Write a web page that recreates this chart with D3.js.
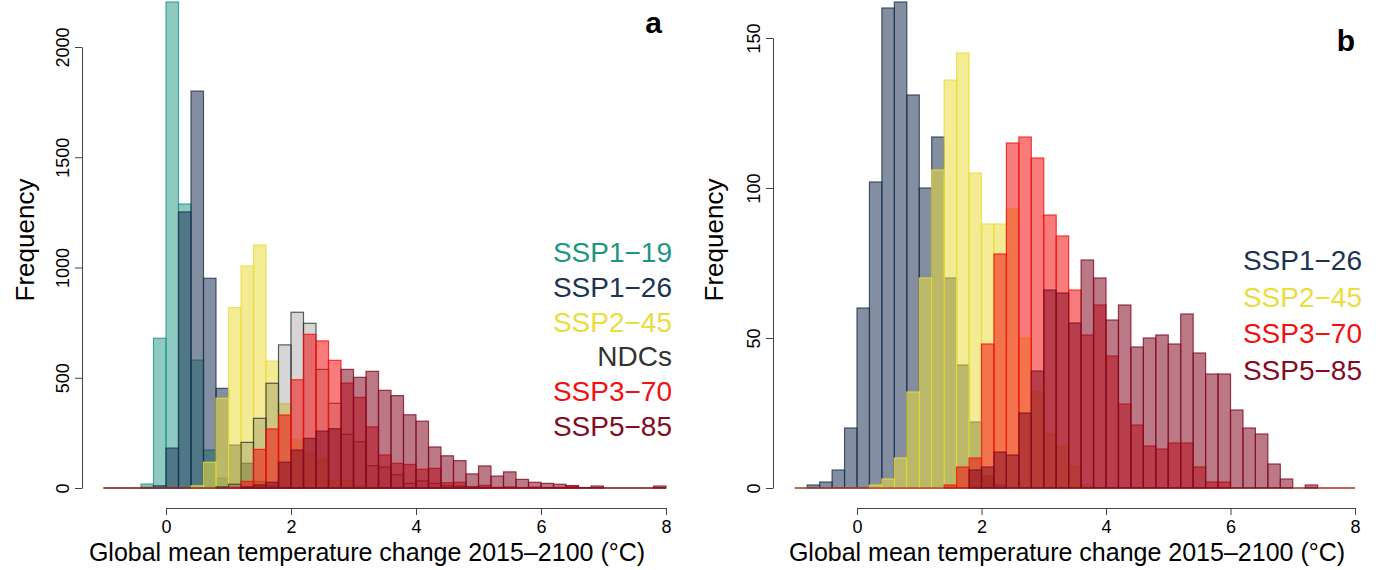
<!DOCTYPE html>
<html>
<head>
<meta charset="utf-8">
<script src="https://cdn.jsdelivr.net/npm/d3@7"></script>
<style>
  body { margin: 0; background: #fff; }
  svg text { font-family: "Liberation Sans", Arial, sans-serif; }
</style>
</head>
<body>
<div id="vis-container"></div>
<script>
// histogram bins: 0.2 wide, the first one starts at -1.0
var binStart = -1.0;
var binWidth = 0.2;

// panel a counts, one entry per bin
var ssp119A = [0,0,0,18,679,2204,1288,580,172,44,8];
var ssp126A = [0,0,0,3,10,181,1252,1800,951,452,195,112,30,10,3];
var ssp245A = [0,0,0,0,0,0,0,10,117,407,818,1007,1102,576,382,218,157,127,36,36,10,3];
var ndcsA   = [0,0,0,0,0,0,0,0,0,5,17,207,316,475,649,797,747,538,384,243,210,101,95,60,21,32,21,10,8,5,3];
var ssp370A = [0,0,0,0,0,0,0,0,0,0,3,30,175,268,331,491,697,667,579,476,411,277,150,112,107,85,89,24,26,5,12,3,5,2,4,2,3,8];
var ssp585A = [0,0,0,0,0,0,0,0,0,0,0,5,14,26,117,172,225,258,269,538,502,529,443,419,332,303,186,146,124,64,100,54,73,39,26,21,17,11,2,9,0,0,0,0,9];

// panel b counts
var ssp126B = [0,1,2,6,20,60,102,160,162,131,100,117,70,41,22,4,1];
var ssp245B = [0,0,0,0,0,0,1,3,10,32,70,106,136,145,105,88,88,93,50,32,18,14,7,1];
var ssp370B = [0,0,0,0,0,0,0,0,0,0,0,0,1,7,10,48,78,115,117,110,91,84,66,51,61,44,28,21,14,13,15,15,7,2,2];
var ssp585B = [0,0,0,0,0,0,0,0,0,0,0,0,0,0,6,7,12,11,25,39,66,65,55,76,70,56,61,47,50,51,48,58,45,38,38,26,20,18,8,3,0,1];

var namesA = ["SSP1\u221219", "SSP1\u221226", "SSP2\u221245", "NDCs", "SSP3\u221270", "SSP5\u221285"];
var namesB = ["SSP1\u221226", "SSP2\u221245", "SSP3\u221270", "SSP5\u221285"];
var xTicks = [0, 2, 4, 6, 8];
var yTicksA = [0, 500, 1000, 1500, 2000];
var yTicksB = [0, 50, 100, 150];

var colour = {
	"SSP1\u221219": "#1e9583",
	"SSP1\u221226": "#1d3354",
	"SSP2\u221245": "#eadd3d",
	"NDCs": "#333333",
	"SSP3\u221270": "#f21111",
	"SSP5\u221285": "#840b22"
};
var fillAlpha = { "NDCs": 0.2, "SSP1\u221219": 0.5 };

var svg = d3.select("#vis-container")
	.append("svg")
	.attr("width", 1381)
	.attr("height", 570);

function drawPanel(p) {
	var x = d3.scaleLinear().domain([0, 8]).range(p.xRange);
	var y = d3.scaleLinear().domain(p.yDomain).range([488, p.yTop]);
	var g = svg.append("g");

	p.series.forEach(function (counts, s) {
		var c = colour[p.names[s]];
		var a = fillAlpha[p.names[s]] || 0.55;
		var bins = counts.map(function (v, i) {
			return { x0: binStart + i * binWidth, x1: binStart + (i + 1) * binWidth, n: v };
		}).filter(function (b) { return b.n > 0; });

		// zero-height bars show as a line along the whole break range
		g.append("line")
			.attr("x1", x(-1)).attr("x2", x(8))
			.attr("y1", y(0)).attr("y2", y(0))
			.attr("stroke", c).attr("stroke-opacity", 0.6).attr("stroke-width", 1.2);

		g.selectAll(null).data(bins).enter().append("rect")
			.attr("x", function (b) { return x(b.x0); })
			.attr("width", function (b) { return x(b.x1) - x(b.x0); })
			.attr("y", function (b) { return y(b.n); })
			.attr("height", function (b) { return y(0) - y(b.n); })
			.attr("fill", d3.color(c).copy({ opacity: a }))
			.attr("stroke", c)
			.attr("stroke-opacity", 0.8)
			.attr("stroke-width", 1.2);
	});

	// axes, R style: detached and only between the outer ticks
	var xAxis = g.append("g")
		.attr("transform", "translate(0,508)")
		.call(d3.axisBottom(x).tickValues(xTicks).tickSize(7).tickSizeOuter(0).tickPadding(5));
	xAxis.selectAll("text").attr("font-size", 18).attr("fill", "#000");
	xAxis.selectAll("line, path").attr("stroke", "#444");

	var yAxis = g.append("g")
		.attr("transform", "translate(" + p.yAxisX + ",0)")
		.call(d3.axisLeft(y).tickValues(p.yTicks).tickFormat(d3.format("d")).tickSize(7).tickSizeOuter(0));
	yAxis.selectAll("text")
		.attr("x", 0).attr("y", -13).attr("dy", 0)
		.attr("text-anchor", "middle")
		.attr("transform", "rotate(-90)")
		.attr("font-size", 18).attr("fill", "#000");
	yAxis.selectAll("line, path").attr("stroke", "#444");

	g.append("text")
		.attr("x", p.titleX).attr("y", 561)
		.attr("text-anchor", "middle")
		.attr("font-size", 25)
		.text("Global mean temperature change 2015\u20132100 (\u00b0C)");

	g.append("text")
		.attr("transform", "translate(" + p.freqX + ",240) rotate(-90)")
		.attr("text-anchor", "middle")
		.attr("font-size", 26)
		.text("Frequency");

	g.append("text")
		.attr("x", p.tagX).attr("y", p.tagY)
		.attr("text-anchor", "end")
		.attr("font-size", 30).attr("font-weight", "bold")
		.text(p.tag);

	g.selectAll(null).data(p.names).enter().append("text")
		.attr("x", p.legX)
		.attr("y", function (d, i) { return p.legY + i * p.legStep; })
		.attr("text-anchor", "end")
		.attr("font-size", 28)
		.attr("fill", function (d) { return colour[d]; })
		.text(function (d) { return d; });
}

drawPanel({
	series: [ssp119A, ssp126A, ssp245A, ndcsA, ssp370A, ssp585A],
	names: namesA,
	xRange: [166, 666], yDomain: [0, 2000], yTop: 47, yTicks: yTicksA,
	yAxisX: 82, titleX: 367, freqX: 34,
	tag: "a", tagX: 662, tagY: 33,
	legX: 672, legY: 262, legStep: 34.8
});

drawPanel({
	series: [ssp126B, ssp245B, ssp370B, ssp585B],
	names: namesB,
	xRange: [857, 1355], yDomain: [0, 150], yTop: 38, yTicks: yTicksB,
	yAxisX: 773, titleX: 1067, freqX: 723,
	tag: "b", tagX: 1355, tagY: 51,
	legX: 1362, legY: 270, legStep: 36.6
});
</script>
</body>
</html>
